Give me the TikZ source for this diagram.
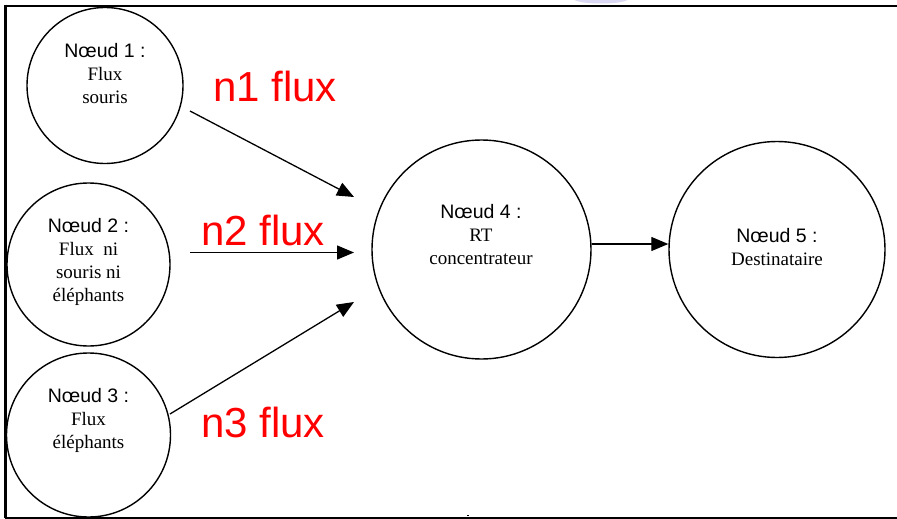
\documentclass[tikz,border=0pt]{standalone}
\usepackage{fontspec}
\setmainfont{Liberation Serif}
\newfontfamily\arialf{Liberation Sans}
\usetikzlibrary{arrows.meta}
\definecolor{lav}{RGB}{218,216,242}
\tikzset{
  nd/.style={circle, draw, line width=1.4pt, inner sep=0pt},
  lbl/.style={align=center, inner sep=0pt, anchor=north, font=\fontsize{19}{23}\selectfont},
  flx/.style={text=red, inner sep=0pt, anchor=base west, font=\arialf\fontsize{42}{44}\selectfont},
  arr/.style={line width=1.3pt, -{Triangle[length=17pt,width=14pt]}},
}
\newcommand{\hd}[1]{{\arialf\fontsize{19.5}{23}\selectfont #1}}
\begin{document}
\begin{tikzpicture}[x=1pt,y=-1pt]
\useasboundingbox (0,0) rectangle (897,519);
\fill[lav] (601,-1) ellipse (27 and 4.5);
% frame
\draw[line width=2.6pt] (5.3,6) -- (897,6);
\draw[line width=2.6pt] (5.3,4.7) -- (5.3,518);
\draw[line width=2pt] (5.3,517.5) -- (897,517.5);
\fill (467,516) rectangle (468.5,514.5);
% circles
\node[nd, minimum size=156pt] (n1) at (105,85.5) {};
\node[nd, minimum size=163pt] (n2) at (88.5,264.5) {};
\node[nd, minimum size=164pt] (n3) at (88.5,435) {};
\node[nd, minimum size=219pt] (n4) at (481.5,249.5) {};
\node[nd, minimum size=216pt] (n5) at (777,249.5) {};
% texts
\node[lbl] (t1) at (105,43) {\hd{Nœud 1 :}\\Flux\\souris};
\node[lbl] (t2) at (88.5,218) {\hd{Nœud 2 :}\\Flux\ \ ni\\souris ni\\éléphants};
\node[lbl] (t3) at (88.5,388) {\hd{Nœud 3 :}\\Flux\\éléphants};
\node[lbl] (t4) at (481,204) {\hd{Nœud 4 :}\\RT\\concentrateur};
\node[lbl] (t5) at (777,228) {\hd{Nœud 5 :}\\Destinataire};
% flux labels
\node[flx] (f1) at (213,101) {n1 flux};
\node[flx] (f2) at (201,245) {n2 flux};
\node[flx] (f3) at (201,437) {n3 flux};
% arrow end points
\coordinate (s1) at (190,111);
\coordinate (e1) at (354,197);
\coordinate (s2) at (190,252.5);
\coordinate (e2) at (354,252.5);
\coordinate (s3) at (170,414);
\coordinate (e3) at (354,302);
\draw[arr] (s1) -- (e1);
\draw[arr] (s2) -- (e2);
\draw[arr] (s3) -- (e3);
\draw[arr] (n4.east |- 0,244) -- (n5.west |- 0,244);
\end{tikzpicture}
\end{document}
